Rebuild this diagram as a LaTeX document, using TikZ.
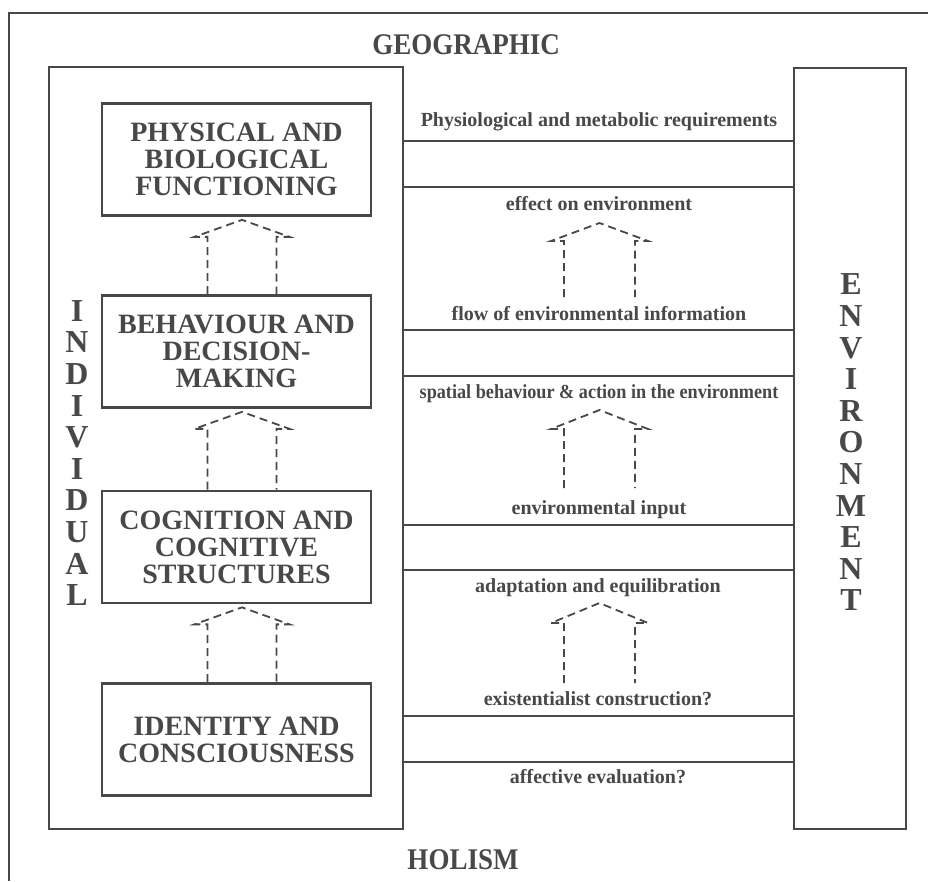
\documentclass[tikz,border=0pt]{standalone}
\usepackage{fontspec}
\setmainfont{Liberation Serif}
\newfontfamily\condfont[FakeStretch=0.9]{Liberation Serif}
\newfontfamily\narrowfont[FakeStretch=0.91]{Liberation Serif}
\usetikzlibrary{calc}
\definecolor{ink}{RGB}{72,72,72}
\newcommand{\leftup}[2]{%
  \draw[dsh] ($(#2.north)+(-29,0)$) -- ($(#1.south)+(-29,20)$) -- ($(#1.south)+(-42,20)$)
    -- ($(#1.south)+(5.5,3)$) -- ($(#1.south)+(53,20)$) -- ($(#1.south)+(40,20)$) -- ($(#2.north)+(40,0)$);}
\newcommand{\rightup}[4]{%
  \draw[dsh] (#1-35.5,#4) -- (#1-35.5,#3) -- (#1-48.5,#3) -- (#1,#2) -- (#1+48.5,#3) -- (#1+35.5,#3) -- (#1+35.5,#4);}
\begin{document}
\begin{tikzpicture}[x=1pt,y=-1pt,
  every node/.style={text=ink},
  box/.style={draw=ink, line width=2.7pt, minimum width=269pt, minimum height=112pt, inner sep=0pt, align=center, font=\fontsize{28}{27}\selectfont\bfseries},
  frame/.style={draw=ink, line width=2.4pt, inner sep=0pt},
  band/.style={draw=ink, line width=1.8pt},
  dsh/.style={draw=ink, line width=1.8pt, dash pattern=on 8pt off 5pt},
  lab/.style={anchor=base, inner sep=0pt, font=\fontsize{20}{20}\selectfont\bfseries},
  big/.style={anchor=base, inner sep=0pt, font=\condfont\fontsize{30}{30}\selectfont\bfseries},
  letters/.style={align=center, inner sep=0pt, font=\fontsize{32}{31.6}\selectfont\bfseries}
]
\useasboundingbox (0,0) rectangle (928,881);
\fill[white] (0,0) rectangle (928,881);
% outer frame
\draw[ink, line width=2pt] (9,881) -- (9,13) -- (928,13);
\node[big] (geo) at (466,54) {GEOGRAPHIC};
\node[big] (hol) at (463,869) {HOLISM};
% main boxes
\node[frame, minimum width=354pt, minimum height=762pt] (indiv) at (226,448) {};
\node[frame, minimum width=112pt, minimum height=761pt] (env) at (850,448.5) {};
\node[letters] (indl) at (77,453) {I\\N\\D\\I\\V\\I\\D\\U\\A\\L};
\node[letters] (envl) at (851,442.5) {E\\N\\V\\I\\R\\O\\N\\M\\E\\N\\T};
% inner boxes
\node[box] (phys) at (236.5,159.5) {PHYSICAL AND\\BIOLOGICAL\\FUNCTIONING};
\node[box] (beh) at (236.5,351.5) {BEHAVIOUR AND\\DECISION-\\MAKING};
\node[box] (cog) at (236.5,547) {COGNITION AND\\COGNITIVE\\STRUCTURES};
\node[box] (ident) at (236.5,739.5) {IDENTITY AND\\CONSCIOUSNESS};
\leftup{phys}{beh}
\leftup{beh}{cog}
\leftup{cog}{ident}
% bands
\foreach \yy in {141,187,330,376,525,570,716,762}
  \draw[band] (indiv.east |- 0,\yy) -- (env.west |- 0,\yy);
% labels
\node[lab] (l1) at (599,126) {Physiological and metabolic requirements};
\node[lab] (l2) at (599,210) {effect on environment};
\node[lab] (l3) at (599,320) {flow of environmental information};
\node[lab, font=\narrowfont\fontsize{20}{20}\selectfont\bfseries] (l4) at (599,398) {spatial behaviour \& action in the environment};
\node[lab] (l5) at (599,514) {environmental input};
\node[lab] (l6) at (598,592) {adaptation and equilibration};
\node[lab] (l7) at (598,705) {existentialist construction?};
\node[lab] (l8) at (598,783) {affective evaluation?};
\rightup{599.5}{223}{241}{297}
\rightup{599.5}{410}{429}{488}
\rightup{599.5}{603}{623}{683}
\end{tikzpicture}
\end{document}
